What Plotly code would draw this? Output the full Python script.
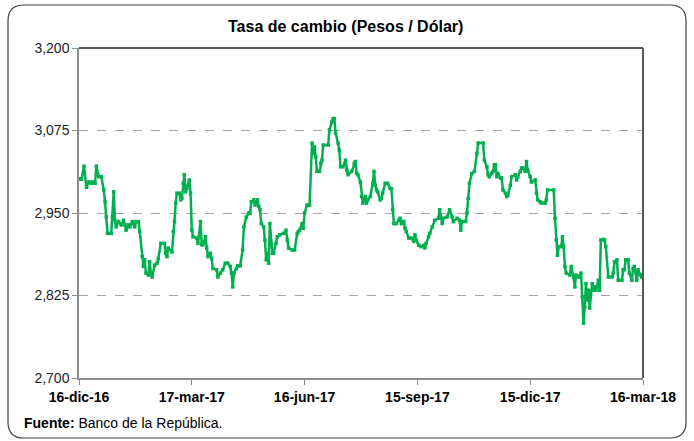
import plotly.graph_objects as go

# ---- data ----
dates = [
    "2016-12-16", "2016-12-18", "2016-12-20", "2016-12-22", "2016-12-24", "2016-12-26", "2016-12-27", "2016-12-29", "2016-12-30",
    "2017-01-01", "2017-01-03", "2017-01-05", "2017-01-06", "2017-01-07", "2017-01-08", "2017-01-11", "2017-01-12", "2017-01-13",
    "2017-01-14", "2017-01-15", "2017-01-17", "2017-01-19", "2017-01-21", "2017-01-22", "2017-01-23", "2017-01-25", "2017-01-26",
    "2017-01-28", "2017-01-30", "2017-01-31", "2017-02-02", "2017-02-03", "2017-02-05", "2017-02-06", "2017-02-07", "2017-02-08",
    "2017-02-10", "2017-02-11", "2017-02-12", "2017-02-13", "2017-02-15", "2017-02-17", "2017-02-18", "2017-02-20", "2017-02-23",
    "2017-02-24", "2017-02-25", "2017-02-26", "2017-03-01", "2017-03-02", "2017-03-03", "2017-03-04", "2017-03-05", "2017-03-07",
    "2017-03-08", "2017-03-09", "2017-03-10", "2017-03-11", "2017-03-12", "2017-03-13", "2017-03-15", "2017-03-16", "2017-03-17",
    "2017-03-18", "2017-03-21", "2017-03-22", "2017-03-24", "2017-03-25", "2017-03-26", "2017-03-28", "2017-03-29", "2017-03-30",
    "2017-04-01", "2017-04-02", "2017-04-03", "2017-04-06", "2017-04-07", "2017-04-09", "2017-04-11", "2017-04-13", "2017-04-15",
    "2017-04-17", "2017-04-18", "2017-04-19", "2017-04-20", "2017-04-22", "2017-04-23", "2017-04-25", "2017-04-27", "2017-04-28",
    "2017-04-30", "2017-05-02", "2017-05-03", "2017-05-04", "2017-05-06", "2017-05-07", "2017-05-08", "2017-05-09", "2017-05-10",
    "2017-05-11", "2017-05-12", "2017-05-14", "2017-05-15", "2017-05-16", "2017-05-17", "2017-05-18", "2017-05-19", "2017-05-20",
    "2017-05-21", "2017-05-22", "2017-05-24", "2017-05-25", "2017-05-27", "2017-05-30", "2017-06-01", "2017-06-02", "2017-06-03",
    "2017-06-06", "2017-06-08", "2017-06-10", "2017-06-11", "2017-06-12", "2017-06-14", "2017-06-15", "2017-06-16", "2017-06-18",
    "2017-06-20", "2017-06-22", "2017-06-23", "2017-06-24", "2017-06-25", "2017-06-26", "2017-06-28", "2017-06-29", "2017-06-30",
    "2017-07-01", "2017-07-05", "2017-07-06", "2017-07-08", "2017-07-09", "2017-07-10", "2017-07-11", "2017-07-13", "2017-07-14",
    "2017-07-15", "2017-07-17", "2017-07-19", "2017-07-20", "2017-07-21", "2017-07-24", "2017-07-26", "2017-07-27", "2017-07-28",
    "2017-07-29", "2017-07-31", "2017-08-01", "2017-08-02", "2017-08-04", "2017-08-05", "2017-08-06", "2017-08-08", "2017-08-10",
    "2017-08-11", "2017-08-12", "2017-08-13", "2017-08-14", "2017-08-16", "2017-08-17", "2017-08-18", "2017-08-20", "2017-08-22",
    "2017-08-24", "2017-08-25", "2017-08-26", "2017-08-27", "2017-08-29", "2017-08-31", "2017-09-01", "2017-09-02", "2017-09-04",
    "2017-09-05", "2017-09-06", "2017-09-08", "2017-09-10", "2017-09-12", "2017-09-13", "2017-09-14", "2017-09-16", "2017-09-18",
    "2017-09-20", "2017-09-21", "2017-09-22", "2017-09-24", "2017-09-25", "2017-09-27", "2017-09-29", "2017-10-02", "2017-10-03",
    "2017-10-05", "2017-10-06", "2017-10-09", "2017-10-11", "2017-10-13", "2017-10-14", "2017-10-17", "2017-10-19", "2017-10-20",
    "2017-10-21", "2017-10-24", "2017-10-25", "2017-10-26", "2017-10-27", "2017-10-29", "2017-10-31", "2017-11-02", "2017-11-03",
    "2017-11-07", "2017-11-08", "2017-11-10", "2017-11-11", "2017-11-12", "2017-11-14", "2017-11-15", "2017-11-16", "2017-11-17",
    "2017-11-18", "2017-11-19", "2017-11-21", "2017-11-22", "2017-11-23", "2017-11-25", "2017-11-26", "2017-11-27", "2017-11-29",
    "2017-11-30", "2017-12-03", "2017-12-04", "2017-12-05", "2017-12-07", "2017-12-08", "2017-12-09", "2017-12-11", "2017-12-12",
    "2017-12-13", "2017-12-15", "2017-12-16", "2017-12-19", "2017-12-20", "2017-12-21", "2017-12-23", "2017-12-24", "2017-12-27",
    "2017-12-28", "2017-12-29", "2018-01-03", "2018-01-04", "2018-01-05", "2018-01-06", "2018-01-07", "2018-01-09", "2018-01-10",
    "2018-01-11", "2018-01-12", "2018-01-13", "2018-01-16", "2018-01-17", "2018-01-19", "2018-01-20", "2018-01-21", "2018-01-23",
    "2018-01-25", "2018-01-26", "2018-01-27", "2018-01-28", "2018-01-29", "2018-01-30", "2018-01-31", "2018-02-01", "2018-02-03",
    "2018-02-04", "2018-02-05", "2018-02-06", "2018-02-08", "2018-02-09", "2018-02-10", "2018-02-12", "2018-02-13", "2018-02-14",
    "2018-02-16", "2018-02-19", "2018-02-20", "2018-02-21", "2018-02-23", "2018-02-24", "2018-02-27", "2018-02-28", "2018-03-01",
    "2018-03-02", "2018-03-04", "2018-03-05", "2018-03-07", "2018-03-08", "2018-03-09", "2018-03-11", "2018-03-12", "2018-03-14",
    "2018-03-15", "2018-03-16",
]

tasa = [
    3002, 3001, 3021, 2989, 2997, 2995, 2997, 2995, 3021,
    3005, 3005, 2985, 2967, 2944, 2919, 2919, 2944, 2982,
    2939, 2929, 2937, 2932, 2939, 2932, 2924, 2932, 2929,
    2937, 2929, 2937, 2937, 2922, 2884, 2869, 2879, 2859,
    2856, 2876, 2859, 2853, 2871, 2874, 2881, 2904, 2904,
    2889, 2884, 2897, 2891, 2922, 2937, 2965, 2980, 2980,
    2970, 2972, 2995, 3008, 2982, 2987, 3000, 2980, 2924,
    2914, 2912, 2904, 2937, 2902, 2902, 2914, 2897, 2884,
    2889, 2881, 2866, 2864, 2853, 2859, 2864, 2874, 2874,
    2869, 2859, 2838, 2859, 2866, 2870, 2870, 2894, 2929,
    2944, 2950, 2950, 2967, 2970, 2962, 2967, 2970, 2960,
    2955, 2934, 2929, 2909, 2879, 2889, 2874, 2934, 2904,
    2889, 2889, 2904, 2914, 2917, 2919, 2924, 2909, 2897,
    2894, 2894, 2919, 2922, 2924, 2934, 2927, 2950, 2962,
    2962, 3056, 3040, 3050, 3035, 3013, 3013, 3025, 3030,
    3053, 3053, 3076, 3088, 3093, 3093, 3071, 3056, 3045,
    3020, 3020, 3030, 3015, 3008, 3013, 3025, 3028, 3010,
    3008, 2997, 2975, 2965, 2975, 2965, 2970, 2975, 2995,
    3013, 2992, 2985, 2982, 2970, 2972, 2980, 2995, 2995,
    2987, 2987, 2955, 2934, 2934, 2939, 2942, 2934, 2937,
    2927, 2922, 2912, 2912, 2907, 2917, 2909, 2901, 2899,
    2901, 2897, 2904, 2914, 2919, 2929, 2939, 2942, 2955,
    2934, 2942, 2944, 2955, 2944, 2937, 2942, 2939, 2924,
    2937, 2937, 2950, 2972, 2995, 3010, 3013, 3040, 3056,
    3056, 3030, 3020, 3008, 3005, 3010, 3013, 3023, 3023,
    3005, 3010, 3003, 3003, 2985, 2980, 2975, 2977, 2992,
    3005, 3008, 3000, 3005, 3013, 3018, 3018, 3013, 3028,
    3015, 3005, 2997, 3000, 2980, 2970, 2967, 2965, 2965,
    2970, 2985, 2985, 2942, 2909, 2886, 2899, 2899, 2914,
    2899, 2869, 2859, 2856, 2869, 2853, 2838, 2856, 2853,
    2859, 2823, 2783, 2808, 2843, 2818, 2833, 2806, 2843,
    2833, 2838, 2833, 2848, 2833, 2909, 2910, 2909, 2899,
    2853, 2853, 2859, 2876, 2879, 2848, 2848, 2864, 2864,
    2879, 2879, 2859, 2848, 2866, 2869, 2848, 2864, 2856,
    2853, 2853,
]

x_tick_dates = ["2016-12-16", "2017-03-17", "2017-06-16", "2017-09-15", "2017-12-15", "2018-03-16"]
x_tick_labels = ["16-dic-16", "17-mar-17", "16-jun-17", "15-sep-17", "15-dic-17", "16-mar-18"]
y_ticks = [2700, 2825, 2950, 3075, 3200]

title_text = "Tasa de cambio (Pesos / Dólar)"
source_text = "<b>Fuente:</b> Banco de la República."

# ---- figure ----
FONT = "Liberation Sans Narrow, Arial Narrow, Liberation Sans, Arial, sans-serif"
GREEN = "#00B050"

W, H = 694, 441
L, R, T, B = 79, 51, 48, 63
pw, ph = W - L - R, H - T - B

fig = go.Figure()
fig.add_trace(go.Scatter(
    x=dates, y=tasa, mode="lines+markers",
    line=dict(color=GREEN, width=2.5),
    marker=dict(color=GREEN, size=3.5, symbol="square"),
    hoverinfo="x+y", showlegend=False,
))

fig.update_layout(
    width=W, height=H,
    margin=dict(l=L, r=R, t=T, b=B),
    paper_bgcolor="white", plot_bgcolor="white",
    font=dict(family=FONT, size=14, color="#000000"),
    showlegend=False,
    xaxis=dict(
        type="date",
        range=[x_tick_dates[0], x_tick_dates[-1]],
        tickvals=x_tick_dates, ticktext=x_tick_labels,
        tickfont=dict(family=FONT, size=14, color="#000000", weight="bold"),
        showgrid=False, zeroline=False,
        showline=True, linecolor="#8C8C8C", linewidth=1.5,
        ticks="outside", ticklen=5, tickcolor="#8C8C8C",
    ),
    yaxis=dict(
        range=[2700, 3200],
        tickvals=y_ticks, tickformat=",d",
        tickfont=dict(family=FONT, size=14, color="#222222"),
        showgrid=True, gridcolor="#A6A6A6", griddash="dash", gridwidth=1,
        zeroline=False,
        showline=True, linecolor="#8C8C8C", linewidth=1.5,
        ticks="outside", ticklen=5, tickcolor="#8C8C8C",
    ),
)

# plot-area top/right border
fig.add_shape(type="line", xref="paper", yref="paper", x0=0, x1=1, y0=1, y1=1,
              line=dict(color="#202020", width=1.5), layer="above")
fig.add_shape(type="line", xref="paper", yref="paper", x0=1, x1=1, y0=0, y1=1,
              line=dict(color="#595959", width=2), layer="above")

# rounded outer frame
def px_x(p):
    return (p - L) / pw

def px_y(p):
    return (H - B - p) / ph

x0, x1, y0, y1 = px_x(8), px_x(686), px_y(5), px_y(438)
rx, ry = 16 / pw, 16 / ph
path = (f"M {x0 + rx},{y0} L {x1 - rx},{y0} Q {x1},{y0} {x1},{y0 - ry} "
        f"L {x1},{y1 + ry} Q {x1},{y1} {x1 - rx},{y1} "
        f"L {x0 + rx},{y1} Q {x0},{y1} {x0},{y1 + ry} "
        f"L {x0},{y0 - ry} Q {x0},{y0} {x0 + rx},{y0} Z")
fig.add_shape(type="path", xref="paper", yref="paper", path=path,
              line=dict(color="#404040", width=1.2), layer="below")

fig.add_annotation(text=f"<b>{title_text}</b>", xref="paper", yref="paper",
                   x=px_x(345), y=px_y(27), xanchor="center", yanchor="middle",
                   showarrow=False, font=dict(family=FONT, size=16, color="#000000"))
fig.add_annotation(text=source_text, xref="paper", yref="paper",
                   x=px_x(22), y=px_y(423), xanchor="left", yanchor="middle",
                   showarrow=False, font=dict(family=FONT, size=14, color="#000000"))

fig.write_html("out.html", config={"displayModeBar": False},
               post_script="document.body.style.margin='0';document.body.style.padding='0';")
